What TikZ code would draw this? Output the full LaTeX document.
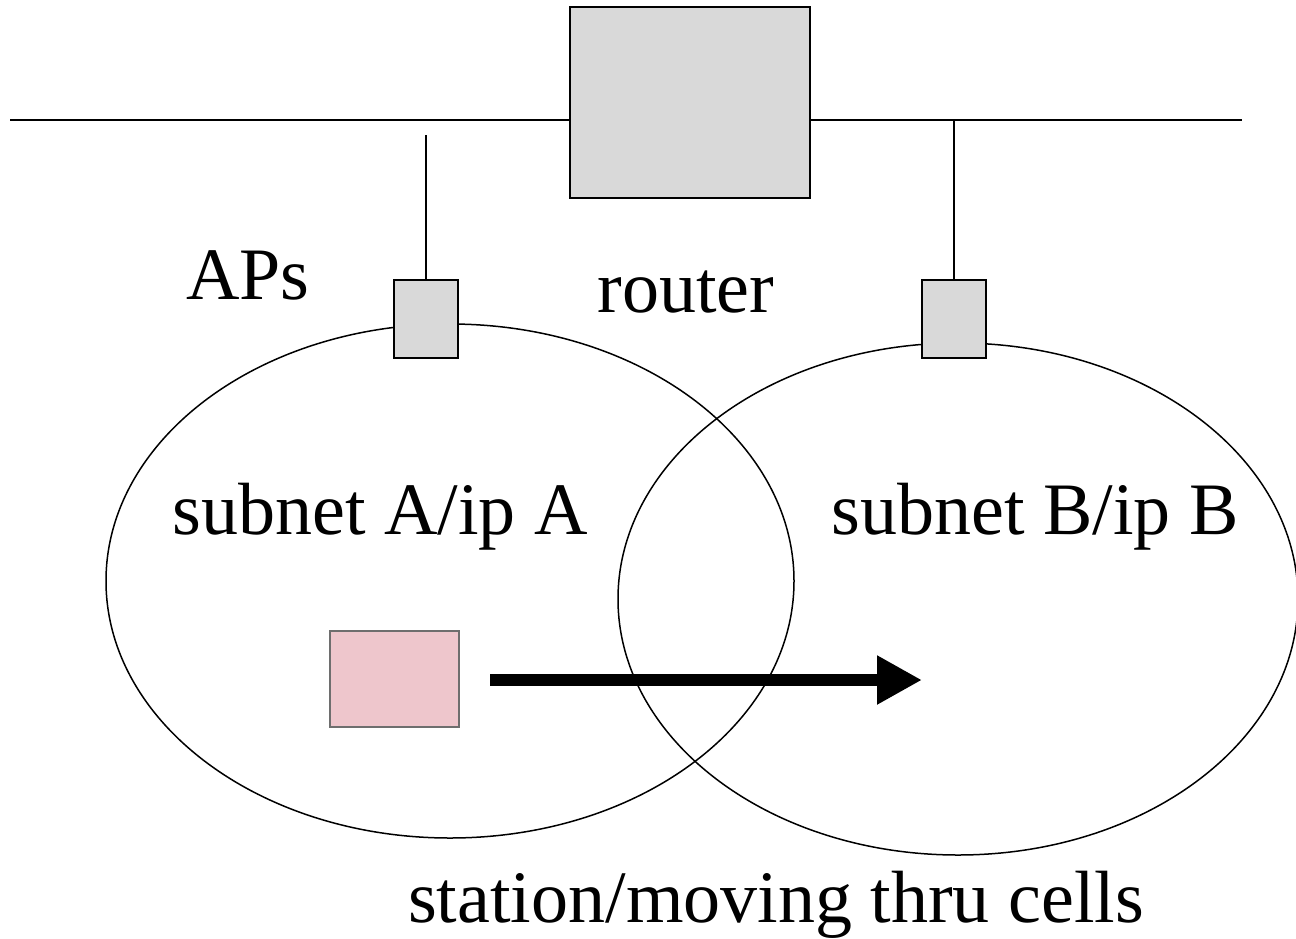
\documentclass[tikz,border=0pt]{standalone}
\usepackage{fontspec}
\setmainfont{Liberation Serif}
\usetikzlibrary{arrows.meta}
\definecolor{boxgray}{HTML}{D9D9D9}
\definecolor{stapink}{HTML}{EEC6CC}
\definecolor{staedge}{HTML}{6E6E6E}
\begin{document}
\begin{tikzpicture}[x=1pt,y=-1pt,
  wire/.style={line width=2pt},
  grayblock/.style={draw, line width=2.5pt, fill=boxgray, inner sep=0pt},
  cell/.style={draw, line width=1.5pt},
  label/.style={font=\fontsize{74}{80}\selectfont, inner sep=0pt}]
\useasboundingbox (0,0) rectangle (1296,938);
% coverage cells
\draw[cell] (450,581) ellipse [x radius=344, y radius=257];
\draw[cell] (958,599) ellipse [x radius=340, y radius=256];
% backbone
\coordinate (bl) at (10,120);
\coordinate (br) at (1242,120);
\node[grayblock, minimum width=240pt, minimum height=191pt] (router) at (690,102.5) {};
\draw[wire] (bl) -- (router.west |- bl);
\draw[wire] (router.east |- br) -- (br);
% access points
\node[grayblock, minimum width=64pt, minimum height=78pt] (apA) at (426,319) {};
\node[grayblock, minimum width=64pt, minimum height=78pt] (apB) at (954,319) {};
\coordinate (apAtop) at (426,135);
\draw[wire] (apAtop) -- (apA.north);
\draw[wire] (apB.north |- br) -- (apB.north);
% mobile station
\node[draw=staedge, line width=2pt, fill=stapink, minimum width=129pt, minimum height=96pt, inner sep=0pt] (sta) at (394.5,679) {};
\coordinate (dest) at (922,680);
\draw[line width=12pt, -{Triangle[length=45pt,width=46pt]}] (490,680) -- (dest);
% labels
\node[label] (aps) at (248,275) {APs};
\node[label] (rtr) at (686,292) {router};
\node[label] (sna) at (380,517) {subnet A/ip A};
\node[label] (snb) at (1035,517) {subnet B/ip B};
\node[label] (mv) at (776,905) {station/moving thru cells};
\end{tikzpicture}
\end{document}
